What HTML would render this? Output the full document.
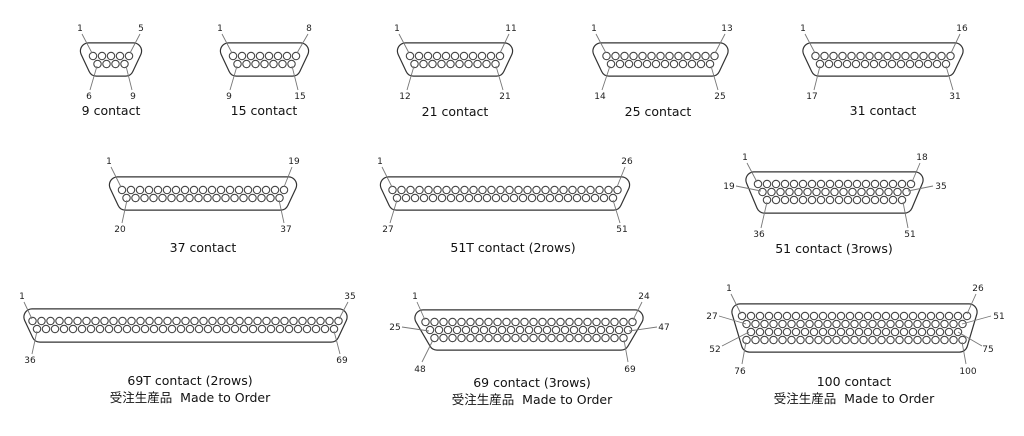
<!DOCTYPE html>
<html><head><meta charset="utf-8"><style>
html,body{margin:0;padding:0;background:#fff}
svg{display:block}
.o{fill:#fff;stroke:#333;stroke-width:17.4;stroke-linejoin:round}
.i{fill:#fff;stroke:#fff;stroke-width:15;stroke-linejoin:round}
.n{font-family:"DejaVu Sans","Liberation Sans",sans-serif;font-size:9px;fill:#222;text-anchor:middle}
.c{font-family:"DejaVu Sans","Liberation Sans","Noto Sans CJK JP",sans-serif;font-size:12.5px;fill:#111;text-anchor:middle}
.l{stroke:#777;stroke-width:0.9;fill:none}
</style></head><body>
<svg width="1024" height="436" viewBox="0 0 1024 436" xmlns="http://www.w3.org/2000/svg">
<defs><pattern id="p" width="9" height="9" patternUnits="userSpaceOnUse"><circle cx="4.5" cy="4.5" r="3.7" fill="#fff" stroke="#444" stroke-width="1.1"/></pattern></defs>

<!-- 9 -->
<polygon class="o" points="88.5,51 133.5,51 125.5,68 96.5,68"/><polygon class="i" points="88.5,51 133.5,51 125.5,68 96.5,68"/>
<rect transform="translate(88.5,51.5)" width="45" height="9" fill="url(#p)"/>
<rect transform="translate(93,59.5)" width="36" height="9" fill="url(#p)"/>
<text class="n" x="80" y="31">1</text><text class="n" x="141" y="31">5</text><text class="n" x="89" y="99">6</text><text class="n" x="133" y="99">9</text>
<path class="l" d="M82,34 L92,53 M140,34 L130,53 M90,90 L97,66 M132,90 L126,66"/>
<text class="c" x="111" y="115">9 contact</text>

<!-- 15 -->
<polygon class="o" points="228.5,51 300.5,51 292.5,68 236.5,68"/><polygon class="i" points="228.5,51 300.5,51 292.5,68 236.5,68"/>
<rect transform="translate(228.5,51.5)" width="72" height="9" fill="url(#p)"/>
<rect transform="translate(233,59.5)" width="63" height="9" fill="url(#p)"/>
<text class="n" x="220" y="31">1</text><text class="n" x="309" y="31">8</text><text class="n" x="229" y="99">9</text><text class="n" x="300" y="99">15</text>
<path class="l" d="M222,34 L232,53 M308,34 L297,53 M230,90 L237,66 M298,90 L292,66"/>
<text class="c" x="264" y="115">15 contact</text>

<!-- 21 -->
<polygon class="o" points="405.5,51 504.5,51 496.5,68 413.5,68"/><polygon class="i" points="405.5,51 504.5,51 496.5,68 413.5,68"/>
<rect transform="translate(405.5,51.5)" width="99" height="9" fill="url(#p)"/>
<rect transform="translate(410,59.5)" width="90" height="9" fill="url(#p)"/>
<text class="n" x="397" y="31">1</text><text class="n" x="511" y="31">11</text><text class="n" x="405" y="99">12</text><text class="n" x="505" y="99">21</text>
<path class="l" d="M399,34 L409,53 M509,34 L500,53 M407,90 L414,66 M503,90 L496,66"/>
<text class="c" x="455" y="116">21 contact</text>

<!-- 25 -->
<polygon class="o" points="601,51 720,51 712,68 609,68"/><polygon class="i" points="601,51 720,51 712,68 609,68"/>
<rect transform="translate(602,51.5)" width="117" height="9" fill="url(#p)"/>
<rect transform="translate(606.5,59.5)" width="108" height="9" fill="url(#p)"/>
<text class="n" x="594" y="31">1</text><text class="n" x="727" y="31">13</text><text class="n" x="600" y="99">14</text><text class="n" x="720" y="99">25</text>
<path class="l" d="M596,34 L606,53 M725,34 L715,53 M602,90 L610,66 M718,90 L711,66"/>
<text class="c" x="658" y="116">25 contact</text>

<!-- 31 -->
<polygon class="o" points="811,51 955,51 947,68 819,68"/><polygon class="i" points="811,51 955,51 947,68 819,68"/>
<rect transform="translate(811,51.5)" width="144" height="9" fill="url(#p)"/>
<rect transform="translate(815.5,59.5)" width="135" height="9" fill="url(#p)"/>
<text class="n" x="803" y="31">1</text><text class="n" x="962" y="31">16</text><text class="n" x="812" y="99">17</text><text class="n" x="955" y="99">31</text>
<path class="l" d="M805,34 L815,53 M960,34 L951,53 M814,90 L820,66 M953,90 L946,66"/>
<text class="c" x="883" y="115">31 contact</text>

<!-- 37 -->
<polygon class="o" points="117.5,185 288.5,185 280.5,202 125.5,202"/><polygon class="i" points="117.5,185 288.5,185 280.5,202 125.5,202"/>
<rect transform="translate(117.5,185.5)" width="171" height="9" fill="url(#p)"/>
<rect transform="translate(122,193.5)" width="162" height="9" fill="url(#p)"/>
<text class="n" x="109" y="164">1</text><text class="n" x="294" y="164">19</text><text class="n" x="120" y="232">20</text><text class="n" x="286" y="232">37</text>
<path class="l" d="M111,167 L121,187 M292,167 L284,187 M122,223 L127,200 M284,223 L279,200"/>
<text class="c" x="203" y="252">37 contact</text>

<!-- 51T -->
<polygon class="o" points="388.5,185 621.5,185 613.5,202 396.5,202"/><polygon class="i" points="388.5,185 621.5,185 613.5,202 396.5,202"/>
<rect transform="translate(388,185.5)" width="234" height="9" fill="url(#p)"/>
<rect transform="translate(392.5,193.5)" width="225" height="9" fill="url(#p)"/>
<text class="n" x="380" y="164">1</text><text class="n" x="627" y="164">26</text><text class="n" x="388" y="232">27</text><text class="n" x="622" y="232">51</text>
<path class="l" d="M382,167 L392,187 M625,167 L617,187 M390,223 L397,200 M620,223 L613,200"/>
<text class="c" x="513" y="252">51T contact (2rows)</text>

<!-- 51 3rows -->
<polygon class="o" points="754,180 915,180 904.5,205 764.5,205"/><polygon class="i" points="754,180 915,180 904.5,205 764.5,205"/>
<rect transform="translate(753.5,179.5)" width="162" height="9" fill="url(#p)"/>
<rect transform="translate(758,187.5)" width="153" height="9" fill="url(#p)"/>
<rect transform="translate(762.5,195.5)" width="144" height="9" fill="url(#p)"/>
<text class="n" x="745" y="160">1</text><text class="n" x="922" y="160">18</text><text class="n" x="729" y="189">19</text><text class="n" x="941" y="189">35</text><text class="n" x="759" y="237">36</text><text class="n" x="910" y="237">51</text>
<path class="l" d="M747,163 L757,182 M920,163 L912,182 M736,186 L761,191 M933,186 L908,191 M761,228 L767,202 M908,228 L903,202"/>
<text class="c" x="834" y="253">51 contact (3rows)</text>

<!-- 69T -->
<polygon class="o" points="32,317 339,317 331,334 40,334"/><polygon class="i" points="32,317 339,317 331,334 40,334"/>
<rect transform="translate(28,316.5)" width="315" height="9" fill="url(#p)"/>
<rect transform="translate(32.5,324.5)" width="306" height="9" fill="url(#p)"/>
<text class="n" x="22" y="299">1</text><text class="n" x="350" y="299">35</text><text class="n" x="30" y="363">36</text><text class="n" x="342" y="363">69</text>
<path class="l" d="M24,302 L32,319 M348,302 L339,319 M32,354 L37,331 M340,354 L334,331"/>
<text class="c" x="190" y="385">69T contact (2rows)</text>
<text class="c" x="190" y="402">受注生産品&#160;&#160;Made to Order</text>

<!-- 69 3rows -->
<polygon class="o" points="423,318 635,318 621,342 437,342"/><polygon class="i" points="423,318 635,318 621,342 437,342"/>
<rect transform="translate(421,317.5)" width="216" height="9" fill="url(#p)"/>
<rect transform="translate(425.5,325.5)" width="207" height="9" fill="url(#p)"/>
<rect transform="translate(430,333.5)" width="198" height="9" fill="url(#p)"/>
<text class="n" x="415" y="299">1</text><text class="n" x="644" y="299">24</text><text class="n" x="395" y="330">25</text><text class="n" x="664" y="330">47</text><text class="n" x="420" y="372">48</text><text class="n" x="630" y="372">69</text>
<path class="l" d="M417,302 L425,320 M642,302 L633,320 M402,327 L429,331 M657,327 L629,331 M422,362 L433,340 M628,362 L624,340"/>
<text class="c" x="532" y="387">69 contact (3rows)</text>
<text class="c" x="532" y="404">受注生産品&#160;&#160;Made to Order</text>

<!-- 100 -->
<polygon class="o" points="740,312 969,312 959.5,344 749.5,344"/><polygon class="i" points="740,312 969,312 959.5,344 749.5,344"/>
<rect transform="translate(737.5,311.5)" width="234" height="9" fill="url(#p)"/>
<rect transform="translate(742,319.5)" width="225" height="9" fill="url(#p)"/>
<rect transform="translate(746.5,327.5)" width="216" height="9" fill="url(#p)"/>
<rect transform="translate(742,335.5)" width="225" height="9" fill="url(#p)"/>
<text class="n" x="729" y="291">1</text><text class="n" x="978" y="291">26</text><text class="n" x="712" y="319">27</text><text class="n" x="999" y="319">51</text><text class="n" x="715" y="352">52</text><text class="n" x="988" y="352">75</text><text class="n" x="740" y="374">76</text><text class="n" x="968" y="374">100</text>
<path class="l" d="M731,294 L741,314 M976,294 L967,314 M719,316 L746,324 M991,316 L962,324 M722,346 L749,332 M982,346 L958,332 M742,364 L746,342 M966,364 L962,342"/>
<text class="c" x="854" y="386">100 contact</text>
<text class="c" x="854" y="403">受注生産品&#160;&#160;Made to Order</text>
</svg>
</body></html>
